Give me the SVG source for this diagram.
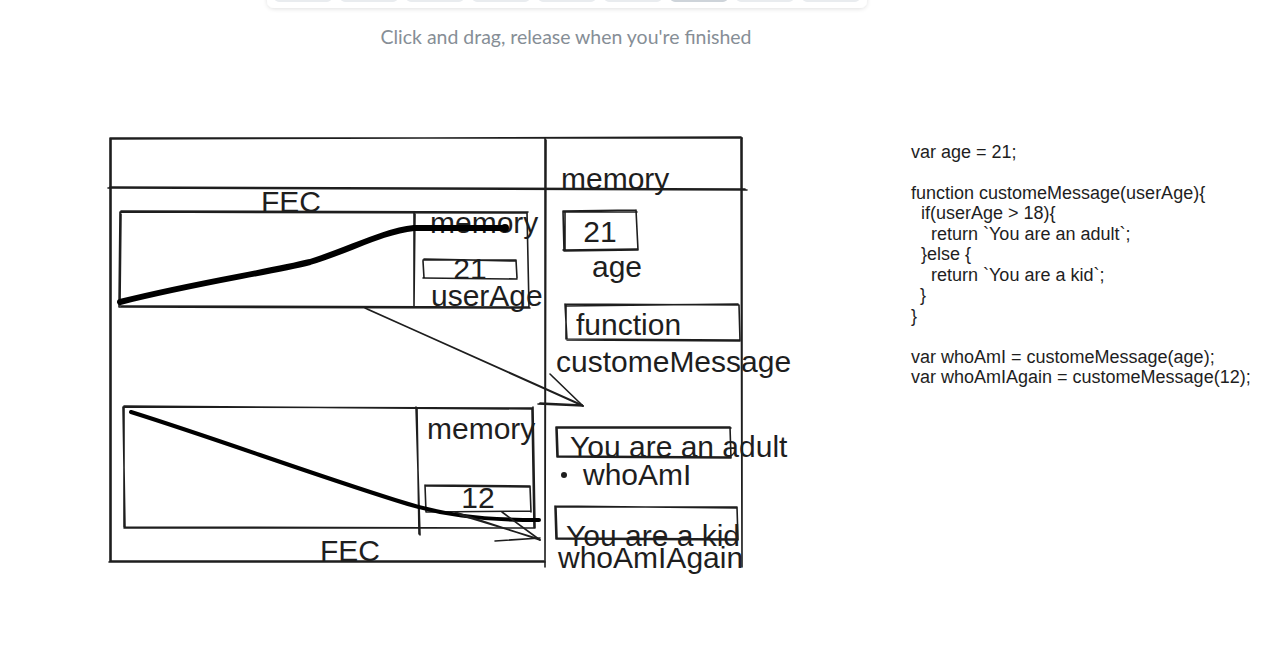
<svg xmlns="http://www.w3.org/2000/svg" width="1271" height="671" viewBox="0 0 1271 671">
<defs>
<style>
.s{fill:none;stroke:#1e1e1e;stroke-width:1.6;stroke-linecap:round;stroke-linejoin:round}
.b{fill:none;stroke:#000;stroke-width:6;stroke-linecap:round;stroke-linejoin:round}
.h{font-family:"Liberation Sans",Arial,sans-serif;font-size:30px;fill:#1e1e1e}
.c{font-family:"Liberation Sans",Arial,sans-serif;font-size:18px;fill:#1e1e1e}
.btn{fill:#e9ecef}
</style>
<filter id="sh" x="-10%" y="-100%" width="120%" height="300%">
<feDropShadow dx="0" dy="1" stdDeviation="2" flood-color="#000" flood-opacity="0.12"/>
</filter>
</defs>
<rect width="1271" height="671" fill="#fff"/>
<g id="toolbar">
<rect x="267" y="-20" width="600" height="28" rx="7" fill="#fff" filter="url(#sh)"/>
<rect class="btn" x="274" y="-20" width="58" height="22" rx="5"/>
<rect class="btn" x="340" y="-20" width="58" height="22" rx="5"/>
<rect class="btn" x="406" y="-20" width="58" height="22" rx="5"/>
<rect class="btn" x="472" y="-20" width="58" height="22" rx="5"/>
<rect class="btn" x="538" y="-20" width="58" height="22" rx="5"/>
<rect class="btn" x="604" y="-20" width="58" height="22" rx="5"/>
<rect x="670" y="-20" width="58" height="22" rx="5" fill="#ced4da"/>
<rect class="btn" x="736" y="-20" width="58" height="22" rx="5"/>
<rect class="btn" x="802" y="-20" width="58" height="22" rx="5"/>
<text x="566" y="44" text-anchor="middle" font-family="Lato, 'Liberation Sans', sans-serif" font-size="19" fill="#868e96" textLength="371" lengthAdjust="spacingAndGlyphs">Click and drag, release when you're finished</text>
</g>
<g id="outer-frame">
<path class="s" d="M110 138 L742 138 M111 139 L741 137 M110 138 L110 562 M111 139 L111 561 M109 562 L545 562 M110 561 L544 561"/>
<path class="s" d="M742 138 L742 567 M741 139 L742 566"/>
<path class="s" d="M108 188 L747 190 M110 187 L745 189"/>
<path class="s" d="M545 138 L545 567 M546 140 L545 565"/>
</g>
<g id="fec1">
<path class="s" d="M120 212 L527 213 M121 211 L528 212 M120 212 L119 307 M121 214 L120 305 M119 307 L530 308 M121 306 L528 307 M527 212 L529 308"/>
<path class="s" d="M414 213 L414 307 M415 214 L414 306"/>
<text class="h" x="291" y="212" text-anchor="middle">FEC</text>
<text class="h" x="430" y="233">memory</text>
<path class="s" d="M423 260 L516 260 M423 261 L424 278 M423 278 L517 279 M516 260 L517 278 M424 259 L515 261"/>
<text class="h" x="470" y="279" text-anchor="middle">21</text>
<text class="h" x="431" y="306">userAge</text>
<path class="b" d="M120 302 C200 282 260 274 310 262 C350 250 380 232 414 228 L505 228"/>
<circle cx="505" cy="228" r="4" fill="#000"/>
</g>
<g id="fec2">
<path class="s" d="M123 407 L533 408 M124 406 L532 409 M123 407 L125 528 M124 408 L124 527 M124 528 L535 528 M125 527 L533 528 M533 407 L535 528 M532 409 L534 527"/>
<path class="s" d="M416 407 L420 535 M417 408 L419 534"/>
<text class="h" x="427" y="439">memory</text>
<path class="s" d="M425 485 L530 486 M425 485 L426 512 M426 512 L531 511 M530 486 L531 512 M426 486 L529 487"/>
<text class="h" x="478" y="508" text-anchor="middle">12</text>
<text class="h" x="350" y="561" text-anchor="middle">FEC</text>
<path class="b" d="M131 412 C220 440 300 470 395 500 C440 515 480 520 539 520" style="stroke-width:4"/>
</g>
<g id="global-memory">
<text class="h" x="561" y="189">memory</text>
<path class="s" d="M563 211 L636 210 M564 212 L637 212 M563 211 L564 251 M565 212 L565 250 M564 251 L638 250 M563 250 L637 249 M636 210 L638 250"/>
<text class="h" x="600" y="242" text-anchor="middle">21</text>
<text class="h" x="592" y="277">age</text>
<path class="s" d="M565 304 L739 305 M566 306 L738 304 M565 304 L567 340 M566 305 L566 339 M567 340 L740 341 M566 339 L739 340 M739 305 L740 341"/>
<text class="h" x="576" y="335">function</text>
<text class="h" x="556" y="372">customeMessage</text>
<path class="s" d="M556 427 L730 427 M557 428 L731 428 M556 427 L557 457 M557 428 L558 456 M557 457 L731 458 M558 456 L730 457 M730 427 L731 458"/>
<text class="h" x="570" y="457">You are an adult</text>
<circle cx="564" cy="475" r="3" fill="#1e1e1e"/>
<text class="h" x="583" y="485">whoAmI</text>
<path class="s" d="M555 506 L736 508 M556 507 L737 507 M555 506 L556 539 M556 508 L557 538 M556 539 L738 540 M557 538 L737 539 M737 507 L738 540"/>
<text class="h" x="566" y="546">You are a kid</text>
<text class="h" x="558" y="568">whoAmIAgain</text>
</g>
<g id="connectors">
<path class="s" d="M365 308 L583 406 M367 309 L582 405"/>
<path class="s" d="M550 374 L583 406 M552 376 L581 404"/>
<path class="s" d="M538 404 L583 406 M540 403 L582 405"/>
<path class="s" d="M455 512 L540 540 M460 515 L539 539"/>
<path class="s" d="M502 512 L540 540"/>
<path class="s" d="M495 541 L540 538"/>
</g>
<g id="code">
<text class="c" x="911" y="158">var age = 21;</text>
<text class="c" x="911" y="199">function customeMessage(userAge){</text>
<text class="c" x="921" y="219">if(userAge &gt; 18){</text>
<text class="c" x="931" y="240">return `You are an adult`;</text>
<text class="c" x="921" y="260">}else {</text>
<text class="c" x="931" y="281">return `You are a kid`;</text>
<text class="c" x="920" y="301">}</text>
<text class="c" x="911" y="322">}</text>
<text class="c" x="911" y="363">var whoAmI = customeMessage(age);</text>
<text class="c" x="911" y="383">var whoAmIAgain = customeMessage(12);</text>
</g>
</svg>
